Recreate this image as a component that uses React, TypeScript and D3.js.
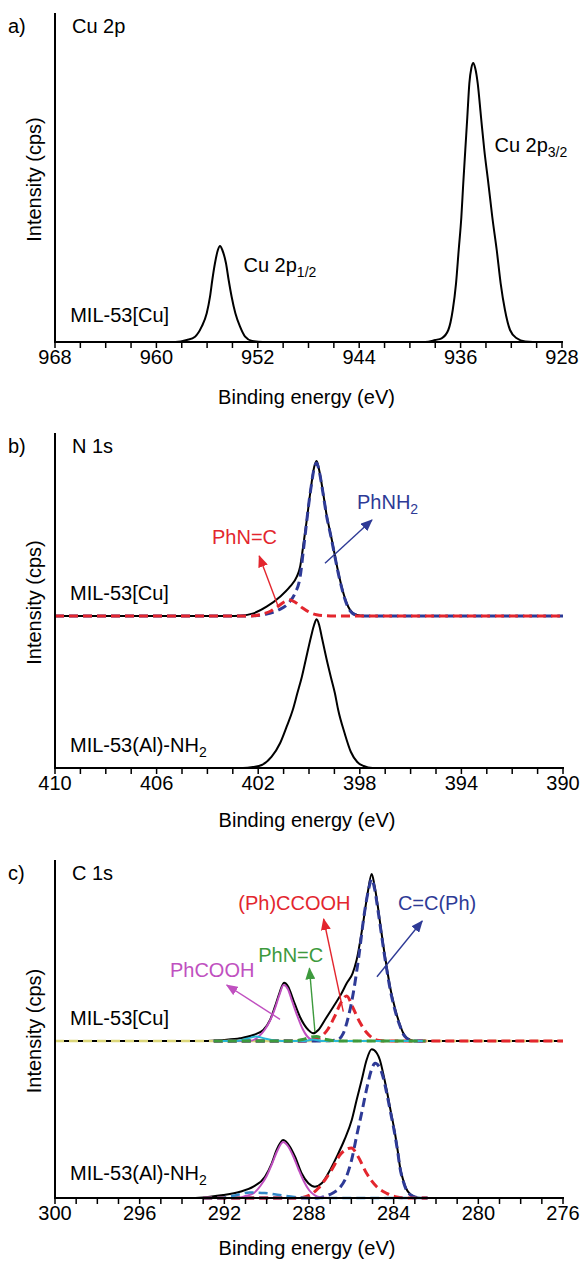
import React from 'react';
import * as d3 from 'd3';

type Pt = [number, number];

// ---- a) Cu 2p ----
const cuTickLabels = [968, 960, 952, 944, 936, 928];
const cu2p: Pt[] = [
  [968, 0], [958.5, 0], [957.6, 2], [956.95, 5.3], [956.43, 15.3], [956.03, 28.7], [955.77, 45.3],
  [955.59, 62], [955.38, 78.7], [955.15, 92], [954.98, 96], [954.8, 92], [954.51, 78.7], [954.3, 62],
  [954.06, 45], [953.77, 28.7], [953.4, 15.3], [953.0, 5.3], [952.45, 1], [951.6, 0], [938.8, 0],
  [938.0, 2], [937.5, 3.7], [936.97, 12], [936.62, 32], [936.36, 58.7], [936.15, 92], [935.94, 125],
  [935.79, 158.7], [935.63, 192], [935.47, 225], [935.31, 258.7], [935.15, 274], [935.0, 279],
  [934.85, 274], [934.65, 258.7], [934.39, 225], [934.13, 192], [933.81, 158.7], [933.5, 125],
  [933.15, 92], [932.84, 58.7], [932.5, 32], [932.1, 12], [931.57, 3.7], [930.9, 0.5], [930.3, 0], [928, 0],
];

// ---- b) N 1s ----
const nTickLabels = [410, 406, 402, 398, 394, 390];
const nCuTotal: Pt[] = [
  [410, 0], [403.2, 0], [402.7, 0.3], [402.19, 2.6], [401.67, 9.3], [401.14, 19.3], [400.75, 29.3],
  [400.48, 39.3], [400.35, 49.3], [400.25, 66], [400.16, 82.7], [400.07, 99.3], [399.99, 116],
  [399.9, 132.7], [399.82, 146], [399.7, 155], [399.6, 146], [399.5, 132], [399.4, 116], [399.3, 100],
  [399.2, 88], [399.1, 76], [399.0, 63], [398.9, 50], [398.75, 33], [398.6, 19], [398.45, 9],
  [398.3, 3.5], [398.1, 1], [397.8, 0], [390, 0],
];
const nCuPhNH2: Pt[] = [
  [410, 0], [402.6, 0], [402.2, 0.3], [401.67, 2], [401.2, 6], [400.81, 12.7], [400.55, 22.7],
  [400.35, 39], [400.22, 66], [400.07, 99], [399.99, 116], [399.9, 132], [399.82, 145], [399.7, 153],
  [399.6, 145], [399.5, 131], [399.4, 115], [399.3, 99], [399.2, 87], [399.1, 75], [399.0, 62],
  [398.9, 49], [398.75, 32], [398.6, 18], [398.45, 8], [398.3, 3], [398.1, 0.8], [397.8, 0], [390, 0],
];
const nCuPhNC: Pt[] = [
  [410, 0], [402.3, 0], [401.9, 1.5], [401.5, 5], [401.2, 10], [400.95, 14.5], [400.75, 16],
  [400.5, 13], [400.25, 8], [400.0, 4], [399.7, 1.2], [399.3, 0.2], [399, 0], [390, 0],
];
const nAlTotal: Pt[] = [
  [410, 0], [402.6, 0], [402.2, 1], [401.86, 3], [401.47, 11.3], [401.14, 24.7], [400.88, 41.3],
  [400.64, 58], [400.46, 74.7], [400.28, 91.3], [400.13, 108], [399.92, 131.3], [399.8, 143],
  [399.7, 148.7], [399.6, 143], [399.5, 131.3], [399.3, 108], [399.14, 91], [398.98, 74.7],
  [398.85, 58], [398.6, 35], [398.35, 16], [398.1, 6], [397.85, 2], [397.5, 0], [390, 0],
];

// ---- c) C 1s ----
const cTickLabels = [300, 296, 292, 288, 284, 280, 276];
const cCuTotal: Pt[] = [
  [300, 0], [293, 0], [292.05, 1], [291.26, 2.7], [290.63, 6], [290.16, 11], [289.84, 21], [289.61, 34.3],
  [289.4, 47.7], [289.18, 58.3], [288.98, 54.3], [288.74, 41], [288.43, 24.3], [288.03, 11], [287.8, 7.7],
  [287.56, 11], [287.25, 21], [286.85, 34.3], [286.46, 47.7], [286.22, 57.7], [285.94, 67.7], [285.75, 81],
  [285.47, 114.3], [285.23, 147.7], [285.04, 167], [284.9, 155], [284.75, 135], [284.6, 112], [284.45, 90],
  [284.3, 70], [284.15, 52], [284.0, 38], [283.85, 26], [283.7, 16], [283.55, 8], [283.4, 3.5], [283.2, 1],
  [283, 0], [276, 0],
];
const cCuCC: Pt[] = [
  [292.5, 0], [287.5, 0], [286.69, 1], [286.38, 7.7], [286.14, 24.3], [285.91, 47.7], [285.67, 81],
  [285.36, 131], [285.18, 152], [285.04, 162], [284.9, 152], [284.75, 132], [284.6, 110], [284.45, 88],
  [284.3, 68], [284.15, 50], [284.0, 36], [283.85, 24], [283.7, 15], [283.55, 7], [283.4, 3], [283.2, 0.8],
  [283, 0], [282.5, 0],
];
const cCuCCOOH: Pt[] = [
  [292.5, 0], [288.3, 0], [288.0, 0.5], [287.7, 2], [287.4, 5], [287.1, 12], [286.8, 24], [286.5, 38],
  [286.22, 45], [285.94, 34], [285.63, 20], [285.3, 9], [285.0, 3], [284.7, 0.5], [284.3, 0], [276, 0],
];
const cCuPhCOOH: Pt[] = [
  [292.5, 0], [290.8, 0], [290.4, 4], [290.1, 11], [289.85, 20], [289.6, 33], [289.4, 46], [289.2, 56],
  [289.0, 52], [288.8, 40], [288.55, 25], [288.3, 12], [288.1, 5], [287.9, 1.5], [287.6, 0], [282.5, 0],
];
const cCuPhNC: Pt[] = [
  [292.5, 0], [288.8, 0], [288.3, 1.5], [287.9, 4], [287.65, 4.5], [287.3, 2], [286.8, 0.3], [286.3, 0], [282.5, 0],
];
const cCuShake: Pt[] = [
  [292.5, 0], [291.5, 0], [290.9, 2.5], [290.5, 4.5], [290.1, 2.5], [289.6, 0.5], [289.0, 0], [288.2, 0],
  [287.8, 1.5], [287.4, 0], [282.5, 0],
];
const cCuBase: Pt[] = [[300, 0], [276, 0]];

const cAlTotal: Pt[] = [
  [300, 0], [293.5, 0], [292.68, 1.3], [292.05, 3], [291.26, 6.3], [290.63, 11.3], [290.08, 21.3],
  [289.76, 34.7], [289.53, 48], [289.22, 58], [288.9, 51.3], [288.66, 41.3], [288.35, 24.7], [288.03, 14.7],
  [287.72, 11.3], [287.4, 14.7], [287.09, 24.7], [286.69, 41.3], [286.33, 58], [285.98, 78], [285.75, 98],
  [285.51, 118], [285.28, 138], [285.04, 148.7], [284.8, 145], [284.65, 138], [284.5, 125], [284.33, 108],
  [284.15, 88], [283.94, 65], [283.8, 46], [283.7, 31], [283.55, 18], [283.4, 9], [283.2, 3.5], [283.0, 1],
  [282.7, 0], [276, 0],
];
const cAlCC: Pt[] = [
  [293, 0], [287.6, 0], [287.2, 2], [286.85, 5.3], [286.54, 10.3], [286.22, 22], [285.98, 38.7],
  [285.75, 62], [285.51, 85.3], [285.28, 108.7], [285.04, 128.7], [284.88, 134.7], [284.65, 130],
  [284.5, 121], [284.33, 105], [284.15, 86], [283.94, 63], [283.8, 45], [283.7, 30], [283.55, 17],
  [283.4, 8], [283.2, 3], [283, 1], [282.7, 0], [282.4, 0],
];
const cAlCCOOH: Pt[] = [
  [293, 0], [288.6, 0], [288.3, 0.5], [287.95, 3], [287.56, 9.7], [287.25, 18], [286.85, 31], [286.54, 43],
  [286.0, 50], [285.67, 41], [285.28, 24.7], [284.8, 11.3], [284.33, 4.7], [283.86, 1], [283.3, 0], [282.4, 0],
];
const cAlPhCOOH: Pt[] = [
  [293, 0], [291.4, 0], [291.0, 2], [290.6, 5], [290.3, 12], [290.0, 22], [289.75, 34], [289.5, 47],
  [289.22, 56], [289.0, 52], [288.75, 42], [288.5, 29], [288.25, 17], [288.0, 8], [287.75, 3], [287.4, 0.5],
  [287, 0], [282.4, 0],
];
const cAlShake: Pt[] = [
  [293, 0], [292.2, 0], [291.5, 2.5], [290.8, 5.5], [290.1, 5], [289.4, 3], [288.7, 1], [288, 0], [282.4, 0],
];

const FONT = "'Liberation Sans', Arial, Helvetica, sans-serif";
const FS = 20;
const RED = '#e3262e';
const BLUE = '#2e3a96';
const MAGENTA = '#c050c0';
const GREEN = '#3d9a3d';
const CYAN = '#28b8d8';
const YELLOW = '#dcd67a';
const TEAL = '#3388c8';

interface PanelProps {
  top: number;
  bottom: number;
  left: number;
  right: number;
  domain: [number, number];
  step: number;
  labels: number[];
  letter: string;
  title: string;
  titleDy: number;
  children: (x: d3.ScaleLinear<number, number>, y: d3.ScaleLinear<number, number>) => React.ReactNode;
}

function Panel(p: PanelProps) {
  const x = d3.scaleLinear().domain(p.domain).range([p.left, p.right]);
  const y = d3.scaleLinear().domain([0, p.bottom - p.top]).range([p.bottom, p.top]);
  const ticks = d3.range(p.domain[0], p.domain[1] - p.step / 2, -p.step);
  return (
    <g>
      {p.children(x, y)}
      <line x1={p.left} x2={p.left} y1={p.top} y2={p.bottom} stroke="#000" strokeWidth={2} />
      <line x1={p.left - 1} x2={p.right + 1} y1={p.bottom} y2={p.bottom} stroke="#000" strokeWidth={2} />
      {ticks.map((t) => (
        <line key={t} x1={x(t)} x2={x(t)} y1={p.bottom} y2={p.bottom + 6} stroke="#000" strokeWidth={1.5} />
      ))}
      {p.labels.map((t) => (
        <text key={'l' + t} x={x(t)} y={p.bottom + 22} textAnchor="middle" fontSize={FS}>{t}</text>
      ))}
      <text x={(p.left + p.right) / 2 - 2} y={p.bottom + p.titleDy} textAnchor="middle" fontSize={FS}>Binding energy (eV)</text>
      <text transform={`translate(41,${(p.top + p.bottom) / 2 + 2}) rotate(-90)`} textAnchor="middle" fontSize={FS}>
        Intensity (cps)
      </text>
      <text x={8} y={p.top + 20} fontSize={FS}>{p.letter}</text>
      <text x={72} y={p.top + 20} fontSize={FS}>{p.title}</text>
    </g>
  );
}

function curve(x: d3.ScaleLinear<number, number>, y: d3.ScaleLinear<number, number>, pts: Pt[], offset = 0) {
  const sorted = [...pts].sort((a, b) => b[0] - a[0]);
  return d3.line<Pt>()
    .x((d) => x(d[0]))
    .y((d) => y(d[1] + offset))
    .curve(d3.curveMonotoneX)(sorted) || '';
}

function Arrow(props: { x: any; y: any; from: Pt; to: Pt; color: string; id: string }) {
  const { x, y, from, to, color, id } = props;
  return (
    <line x1={x(from[0])} y1={y(from[1])} x2={x(to[0])} y2={y(to[1])} stroke={color} strokeWidth={1.4}
      markerEnd={`url(#${id})`} />
  );
}

const markerColors: [string, string][] = [['arR', RED], ['arB', BLUE], ['arM', MAGENTA], ['arG', GREEN]];

export default function App() {
  const nOff = 152;
  const cOff = 157;
  const solid = (d: string, color = '#000', w = 2) => <path d={d} fill="none" stroke={color} strokeWidth={w} />;
  const dashed = (d: string, color: string, w = 3, dash = '9,5') => (
    <path d={d} fill="none" stroke={color} strokeWidth={w} strokeDasharray={dash} />
  );
  const sub = (s: string) => <tspan fontSize={14} dy={5}>{s}</tspan>;
  return (
    <svg width={582} height={1262} style={{ position: 'absolute', left: 0, top: 0, background: '#fff' }}
      fontFamily={FONT}>
      <defs>
        {markerColors.map(([id, c]) => (
          <marker key={id} id={id} markerUnits="userSpaceOnUse" markerWidth={12} markerHeight={10}
            refX={11} refY={5} orient="auto">
            <path d="M0,0 L12,5 L0,10 Z" fill={c} />
          </marker>
        ))}
      </defs>

      <Panel top={13} bottom={342} left={55} right={562} domain={[968, 928]} step={2}
        labels={cuTickLabels} letter="a)" title="Cu 2p" titleDy={62}>
        {(x, y) => (
          <g>
            {solid(curve(x, y, cu2p))}
            <text x={x(966.8)} y={y(20)} fontSize={FS}>MIL-53[Cu]</text>
            <text x={x(953.13)} y={y(70.3)} fontSize={FS}>Cu 2p{sub('1/2')}</text>
            <text x={x(933.33)} y={y(190.3)} fontSize={FS}>Cu 2p{sub('3/2')}</text>
          </g>
        )}
      </Panel>

      <Panel top={433} bottom={768} left={55} right={563} domain={[410, 390]} step={1}
        labels={nTickLabels} letter="b)" title="N 1s" titleDy={59}>
        {(x, y) => (
          <g>
            {solid(curve(x, y, nCuTotal, nOff))}
            {dashed(curve(x, y, nCuPhNH2, nOff), BLUE)}
            {dashed(curve(x, y, nCuPhNC, nOff), RED)}
            {solid(curve(x, y, nAlTotal))}
            <Arrow x={x} y={y} from={[401.21, 161.3]} to={[401.96, 212]} color={RED} id="arR" />
            <Arrow x={x} y={y} from={[399.37, 204.7]} to={[397.52, 248]} color={BLUE} id="arB" />
            <text x={x(403.82)} y={y(224)} fontSize={FS} fill={RED}>PhN=C</text>
            <text x={x(398.11)} y={y(259)} fontSize={FS} fill={BLUE}>PhNH{sub('2')}</text>
            <text x={x(409.41)} y={y(168)} fontSize={FS}>MIL-53[Cu]</text>
            <text x={x(409.41)} y={y(16.3)} fontSize={FS}>MIL-53(Al)-NH{sub('2')}</text>
          </g>
        )}
      </Panel>

      <Panel top={860} bottom={1198} left={55} right={563} domain={[300, 276]} step={1}
        labels={cTickLabels} letter="c)" title="C 1s" titleDy={57}>
        {(x, y) => (
          <g>
            {solid(curve(x, y, cCuTotal, cOff))}
            {dashed(curve(x, y, cCuBase, cOff), YELLOW, 2.5)}
            {dashed(curve(x, y, cCuCCOOH, cOff), RED)}
            {solid(curve(x, y, cCuPhCOOH, cOff), MAGENTA, 2)}
            {dashed(curve(x, y, cCuCC, cOff), BLUE)}
            {solid(curve(x, y, cCuShake, cOff), CYAN, 2)}
            {dashed(curve(x, y, cCuPhNC, cOff), GREEN)}

            {solid(curve(x, y, cAlTotal))}
            {dashed(curve(x, y, cAlCC), BLUE)}
            {dashed(curve(x, y, cAlCCOOH), RED)}
            {solid(curve(x, y, cAlPhCOOH), MAGENTA, 2)}
            {dashed(curve(x, y, cAlShake, 0), TEAL, 2.5)}

            <Arrow x={x} y={y} from={[289.37, 178.7]} to={[291.89, 213]} color={MAGENTA} id="arM" />
            <Arrow x={x} y={y} from={[287.72, 166.3]} to={[287.98, 229.7]} color={GREEN} id="arG" />
            <Arrow x={x} y={y} from={[286.38, 186.3]} to={[287.31, 279]} color={RED} id="arR" />
            <Arrow x={x} y={y} from={[284.79, 221.3]} to={[282.65, 277]} color={BLUE} id="arB" />
            <text x={x(291.34)} y={y(288)} fontSize={FS} fill={RED}>(Ph)CCOOH</text>
            <text x={x(283.8)} y={y(288)} fontSize={FS} fill={BLUE}>C=C(Ph)</text>
            <text x={x(290.4)} y={y(236.3)} fontSize={FS} fill={GREEN}>PhN=C</text>
            <text x={x(294.57)} y={y(221.3)} fontSize={FS} fill={MAGENTA}>PhCOOH</text>
            <text x={x(299.29)} y={y(173)} fontSize={FS}>MIL-53[Cu]</text>
            <text x={x(299.29)} y={y(18)} fontSize={FS}>MIL-53(Al)-NH{sub('2')}</text>
          </g>
        )}
      </Panel>
    </svg>
  );
}
